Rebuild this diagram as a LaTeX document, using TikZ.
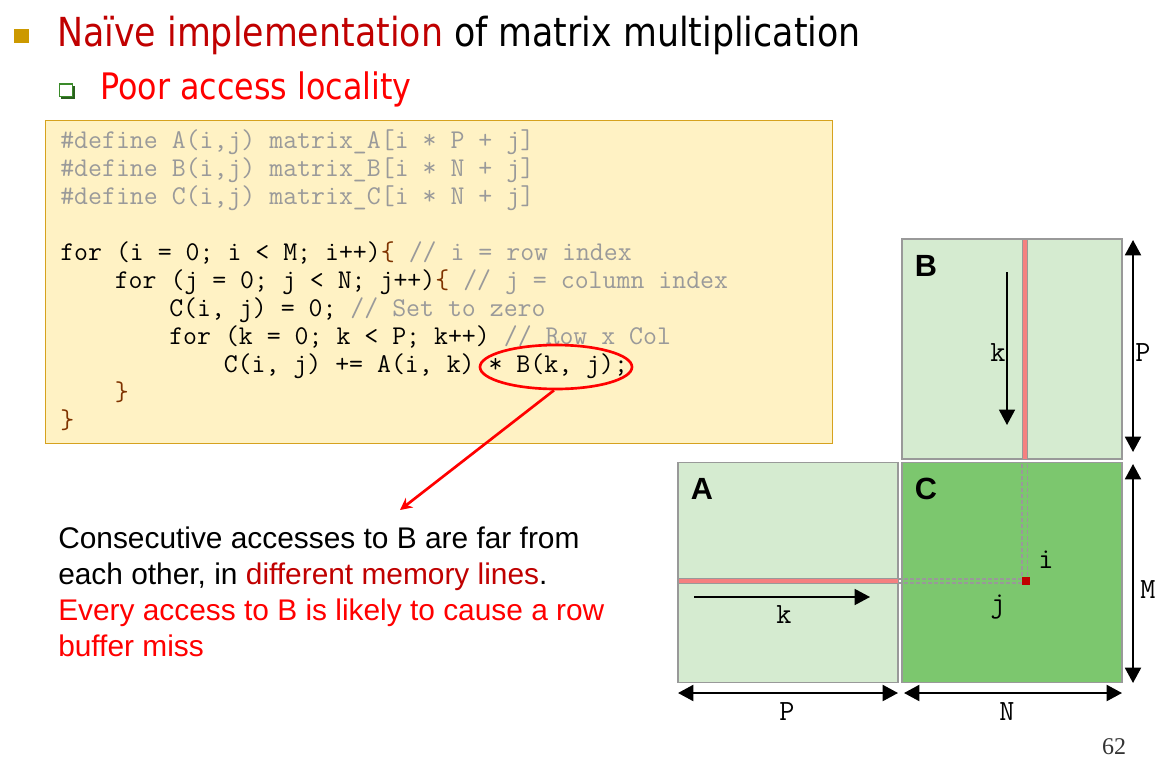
\documentclass[tikz,border=0pt]{standalone}
\usepackage{fontspec}
\setmainfont{Liberation Sans}
\newfontfamily\tahoma[FakeStretch=0.87]{DejaVu Sans}
\newfontfamily\serifnum{Liberation Serif}
\usetikzlibrary{arrows.meta,shapes.geometric}
\definecolor{titlered}{HTML}{C00000}
\definecolor{brightred}{HTML}{FF0000}
\definecolor{bulletgold}{HTML}{CC9900}
\definecolor{bulletgreen}{HTML}{3A8A2A}
\definecolor{codefill}{HTML}{FFF2C4}
\definecolor{codeborder}{HTML}{D6A21E}
\definecolor{cmtgray}{HTML}{9A9A9A}
\definecolor{bracebrown}{HTML}{7F3300}
\definecolor{lightgreen}{HTML}{D5EBD0}
\definecolor{darkgreen}{HTML}{7CC76E}
\definecolor{boxgray}{HTML}{999999}
\definecolor{salmon}{HTML}{F58080}
\definecolor{pointred}{HTML}{C00000}
\tikzset{
  codeline/.style={anchor=base west, inner sep=0pt, font=\ttfamily\fontsize{20.3}{23}\selectfont},
  para/.style={anchor=base west, inner sep=0pt, font=\fontsize{22.4}{26}\selectfont},
  mat/.style={draw=boxgray, line width=1.1pt, minimum width=165pt, minimum height=165pt, inner sep=0pt, outer sep=0pt},
  matlbl/.style={inner sep=0pt, font=\bfseries\fontsize{23}{26}\selectfont},
  idx/.style={inner sep=0pt, font=\ttfamily\fontsize{22}{24}\selectfont},
  dimarrow/.style={line width=1.5pt, {Triangle[length=11.5pt,width=12pt]}-{Triangle[length=11.5pt,width=12pt]}},
  walkarrow/.style={line width=1.1pt, -{Triangle[length=11.5pt,width=12pt]}},
  dashline/.style={draw=boxgray, line width=0.9pt, dash pattern=on 3pt off 1.5pt},
}
\begin{document}
\begin{tikzpicture}[x=0.75pt, y=-0.75pt]
\useasboundingbox (0,0) rectangle (1166,770);
\fill[white] (0,0) rectangle (1166,770);
% title bullets
\fill[bulletgold] (14,29) rectangle (29,43);
\node[anchor=base west, inner sep=0pt, font=\tahoma\fontsize{30}{36}\selectfont] (title) at (57,47)
  {\textcolor{titlered}{Naïve implementation} of matrix multiplication};
\fill[bulletgreen!70!black] (61,86) rectangle (75,99);
\filldraw[draw=bulletgreen, fill=white, line width=0.8pt] (59.5,84) rectangle (72.5,96.5);
\node[anchor=base west, inner sep=0pt, text=brightred, font=\tahoma\fontsize{27.4}{32}\selectfont] (sub) at (100,100)
  {Poor access locality};
% code box
\node[draw=codeborder, fill=codefill, line width=1.1pt, minimum width=590.25pt, minimum height=242.25pt, inner sep=0pt, anchor=north west] (code) at (45,120) {};
\node[codeline, text=cmtgray] (l1) at (60,148) {\#define A(i,j) matrix\_A[i * P + j]};
\node[codeline, text=cmtgray] (l2) at (60,176) {\#define B(i,j) matrix\_B[i * N + j]};
\node[codeline, text=cmtgray] (l3) at (60,204) {\#define C(i,j) matrix\_C[i * N + j]};
\node[codeline] (l5) at (60,260) {for (i = 0; i < M; i++)\textcolor{bracebrown}{\{} \textcolor{cmtgray}{// i = row index}};
\node[codeline] (l6) at (114.5,288) {for (j = 0; j < N; j++)\textcolor{bracebrown}{\{} \textcolor{cmtgray}{// j = column index}};
\node[codeline] (l7) at (169,316) {C(i, j) = 0; \textcolor{cmtgray}{// Set to zero}};
\node[codeline] (l8) at (169,344) {for (k = 0; k < P; k++) \textcolor{cmtgray}{// Row x Col}};
\node[codeline] (l9) at (223.5,372) {C(i, j) += A(i, k) * B(k, j);};
\node[codeline, text=bracebrown] (l10) at (114.5,400) {\}};
\node[codeline, text=bracebrown] (l11) at (60,428) {\}};
% ellipse and arrow
\node[ellipse, draw=brightred, line width=2pt, minimum width=114pt, minimum height=33pt, inner sep=0pt] (ell) at (556,367) {};
\coordinate (tip) at (400,510);
\draw[brightred, line width=2pt, -{Stealth[length=9pt,width=9pt]}] (ell.265) -- (tip);
% paragraph
\node[para] (p1) at (58,548) {Consecutive accesses to B are far from};
\node[para] (p2) at (58,584) {each other, in \textcolor{titlered}{different memory lines}.};
\node[para, text=brightred] (p3) at (58,620) {Every access to B is likely to cause a row};
\node[para, text=brightred] (p4) at (58,656) {buffer miss};
% matrices
\node[mat, fill=lightgreen] (B) at (1012,349) {};
\node[mat, fill=lightgreen] (A) at (788,572.5) {};
\node[mat, fill=darkgreen] (C) at (1012,572.5) {};
\node[matlbl] (Bl) at (926,266) {B};
\node[matlbl] (Al) at (702,489) {A};
\node[matlbl] (Cl) at (926,489) {C};
% highlighted column / row
\filldraw[draw=boxgray, fill=salmon, line width=0.4pt] (1022,239.5) rectangle (1027,459);
\filldraw[draw=boxgray, fill=salmon, line width=0.4pt] (678.5,578) rectangle (898,583);
% dashed guides in C
\draw[dashline] (1022,463.5) -- (1022,578);
\draw[dashline] (1027.5,463.5) -- (1027.5,578);
\draw[dashline] (898,579) -- (1022,579);
\draw[dashline] (898,583) -- (1022,583);
\fill[pointred] (1022,577) rectangle (1030,585);
% walking arrows
\coordinate (bs) at (1007,272);
\coordinate (be) at (1007,425);
\draw[walkarrow] (bs) -- (be);
\coordinate (as) at (694,597);
\coordinate (ae) at (870,597);
\draw[walkarrow] (as) -- (ae);
\node[idx] (kB) at (998,353) {k};
\node[idx] (kA) at (784,615) {k};
\node[idx] (iC) at (1046,560) {i};
\node[idx] (jC) at (998,607) {j};
% dimension arrows
\coordinate (r1) at (1133,240);
\coordinate (r2) at (1133,452);
\coordinate (r3) at (1133,464);
\coordinate (r4) at (1133,683);
\coordinate (b1) at (678,693);
\coordinate (b2) at (898,693);
\coordinate (b3) at (904,693);
\coordinate (b4) at (1122,693);
\draw[dimarrow] (r1) -- (r2);
\draw[dimarrow] (r3) -- (r4);
\draw[dimarrow] (b1) -- (b2);
\draw[dimarrow] (b3) -- (b4);
\node[idx] (Pr) at (1143,353) {P};
\node[idx] (Mr) at (1148,590) {M};
\node[idx] (Pb) at (787,712) {P};
\node[idx] (Nb) at (1007,712) {N};
% page number
\node[inner sep=0pt, text=black!80, font=\serifnum\fontsize{18}{20}\selectfont] (pg) at (1114,747) {62};
\end{tikzpicture}
\end{document}
